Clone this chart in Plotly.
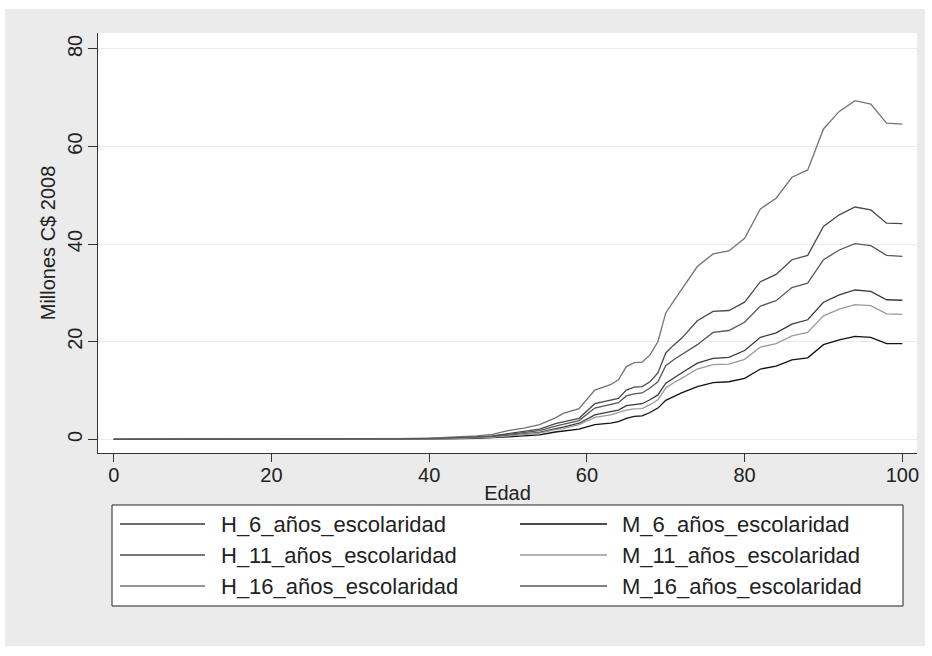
import plotly.graph_objects as go

# ---------------- data ----------------
edad = [0, 4, 8, 12, 16, 20, 24, 28, 32, 36, 40, 42, 44, 46, 48, 50, 52, 54, 56, 57,
        59, 61, 63, 64, 65, 66, 67, 68, 69, 70, 71, 72, 74, 76, 78, 80, 82, 84, 86,
        88, 90, 92, 94, 96, 98, 100]

H_16 = [0.0, 0.0, 0.0, 0.01, 0.02, 0.03, 0.04, 0.06, 0.08, 0.15, 0.25, 0.35, 0.5, 0.7, 1.0, 1.8,
        2.3, 3.0, 4.4, 5.3, 6.3, 10.1, 11.2, 12.2, 14.9, 15.7, 15.8, 17.3, 20.0, 25.9, 28.3,
        30.6, 35.4, 38.0, 38.6, 41.2, 47.2, 49.4, 53.7, 55.2, 63.6, 67.2, 69.4, 68.7, 64.8, 64.6]
H_11 = [0.0, 0.0, 0.0, 0.01, 0.01, 0.02, 0.03, 0.04, 0.06, 0.1, 0.2, 0.25, 0.35, 0.5, 0.7, 1.2,
        1.6, 2.1, 3.2, 3.6, 4.3, 7.3, 8.1, 8.4, 10.1, 10.7, 10.8, 11.8, 13.6, 17.7, 19.3,
        20.7, 24.3, 26.2, 26.4, 28.1, 32.3, 33.8, 36.8, 37.7, 43.6, 46.0, 47.6, 47.0, 44.3, 44.2]
M_16 = [0.0, 0.0, 0.0, 0.01, 0.01, 0.02, 0.03, 0.04, 0.05, 0.08, 0.15, 0.2, 0.3, 0.4, 0.6, 1.0,
        1.4, 1.8, 2.7, 3.1, 3.85, 6.4, 7.1, 7.5, 8.9, 9.3, 9.5, 10.5, 11.8, 15.1, 16.3,
        17.3, 19.4, 21.9, 22.3, 24.0, 27.3, 28.4, 31.1, 32.0, 36.8, 38.8, 40.1, 39.7, 37.7, 37.5]
H_6 = [0.0, 0.0, 0.0, 0.0, 0.01, 0.01, 0.02, 0.03, 0.04, 0.07, 0.12, 0.15, 0.22, 0.3, 0.45, 0.8,
       1.1, 1.4, 2.2, 2.5, 3.3, 5.0, 5.7, 6.0, 6.9, 7.1, 7.3, 8.1, 9.1, 11.5, 12.6,
       13.6, 15.6, 16.6, 16.8, 18.2, 20.9, 21.8, 23.6, 24.5, 28.1, 29.6, 30.6, 30.3, 28.6, 28.5]
M_11 = [0.0, 0.0, 0.0, 0.0, 0.01, 0.01, 0.02, 0.02, 0.03, 0.06, 0.1, 0.14, 0.2, 0.28, 0.4, 0.7,
        1.0, 1.3, 2.0, 2.2, 3.0, 4.5, 5.0, 5.5, 6.0, 6.25, 6.3, 7.1, 8.1, 10.5, 11.6,
        12.5, 14.4, 15.3, 15.4, 16.4, 18.9, 19.6, 21.2, 21.9, 25.3, 26.7, 27.6, 27.4, 25.7, 25.6]
M_6 = [0.0, 0.0, 0.0, 0.0, 0.0, 0.01, 0.01, 0.02, 0.03, 0.05, 0.08, 0.1, 0.15, 0.2, 0.3, 0.5,
       0.7, 0.9, 1.5, 1.7, 2.1, 3.0, 3.3, 3.65, 4.3, 4.7, 4.8, 5.5, 6.4, 8.0, 8.8,
       9.5, 10.8, 11.6, 11.8, 12.5, 14.4, 15.0, 16.3, 16.7, 19.4, 20.4, 21.1, 20.9, 19.6, 19.6]

series_names = ["H_6_años_escolaridad", "M_6_años_escolaridad",
                "H_11_años_escolaridad", "M_11_años_escolaridad",
                "H_16_años_escolaridad", "M_16_años_escolaridad"]
series_values = [H_6, M_6, H_11, M_11, H_16, M_16]
series_colors = ["#3a3a3a", "#111111", "#4a4a4a", "#9a9a9a", "#737373", "#575757"]

y_ticks = [0, 20, 40, 60, 80]
x_ticks = [0, 20, 40, 60, 80, 100]

# ---------------- layout geometry (page pixels) ----------------
W, H = 932, 656
L, R, T, B = 98, 917, 33, 453


def px_x(x):
    return (x - L) / (R - L)


def px_y(y):
    return (B - y) / (B - T)


FONT = "Liberation Sans, Arial, Helvetica, sans-serif"
fig = go.Figure()

for name, vals, col in zip(series_names, series_values, series_colors):
    fig.add_trace(go.Scatter(x=edad, y=vals, name=name, mode="lines",
                             line=dict(color=col, width=1.3), showlegend=False))

shapes = [
    # gray graph region
    dict(type="rect", xref="paper", yref="paper", x0=px_x(5), x1=px_x(925),
         y0=px_y(646), y1=px_y(9), fillcolor="#ebebeb", line=dict(width=0), layer="below"),
    # white plot region
    dict(type="rect", xref="paper", yref="paper", x0=0, x1=1, y0=0, y1=1,
         fillcolor="white", line=dict(width=0), layer="below"),
    # legend box
    dict(type="rect", xref="paper", yref="paper", x0=px_x(112), x1=px_x(903),
         y0=px_y(606), y1=px_y(505), fillcolor="white",
         line=dict(color="#222222", width=1), layer="above"),
]
annotations = []
row_y = [524, 555, 586]
col_line = [(120, 205), (520, 607)]
col_text = [219, 620]
for i, (name, col) in enumerate(zip(series_names, series_colors)):
    r, c = divmod(i, 2)
    yy = px_y(row_y[r])
    shapes.append(dict(type="line", xref="paper", yref="paper",
                       x0=px_x(col_line[c][0]), x1=px_x(col_line[c][1]), y0=yy, y1=yy,
                       line=dict(color=col, width=1.3), layer="above"))
    annotations.append(dict(xref="paper", yref="paper", x=px_x(col_text[c]), y=yy,
                            text=name, showarrow=False, xanchor="left", yanchor="middle",
                            font=dict(size=22, color="#222222", family=FONT)))

fig.update_layout(
    width=W, height=H,
    margin=dict(l=L, r=W - R, t=T, b=H - B, pad=0),
    paper_bgcolor="white", plot_bgcolor="white",
    font=dict(family=FONT, size=20, color="#222222"),
    showlegend=False,
    shapes=shapes, annotations=annotations,
    xaxis=dict(range=[-2.0, 101.86], tickvals=x_ticks, showgrid=False, zeroline=False,
               showline=True, linecolor="#333333", linewidth=1,
               ticks="outside", ticklen=8, tickcolor="#333333", ticklabelstandoff=-4,
               tickfont=dict(size=20), title=dict(text="Edad", font=dict(size=20), standoff=0)),
    yaxis=dict(range=[-2.8, 83.26], tickvals=y_ticks, showgrid=True, gridcolor="#ececec",
               gridwidth=1, zeroline=False, showline=True, linecolor="#333333", linewidth=1,
               ticks="outside", ticklen=9, tickcolor="#333333", tickangle=-90,
               ticklabelstandoff=-2, tickfont=dict(size=20),
               title=dict(text="Millones C$ 2008", font=dict(size=20), standoff=3)),
)

fig.write_html("out.html")
